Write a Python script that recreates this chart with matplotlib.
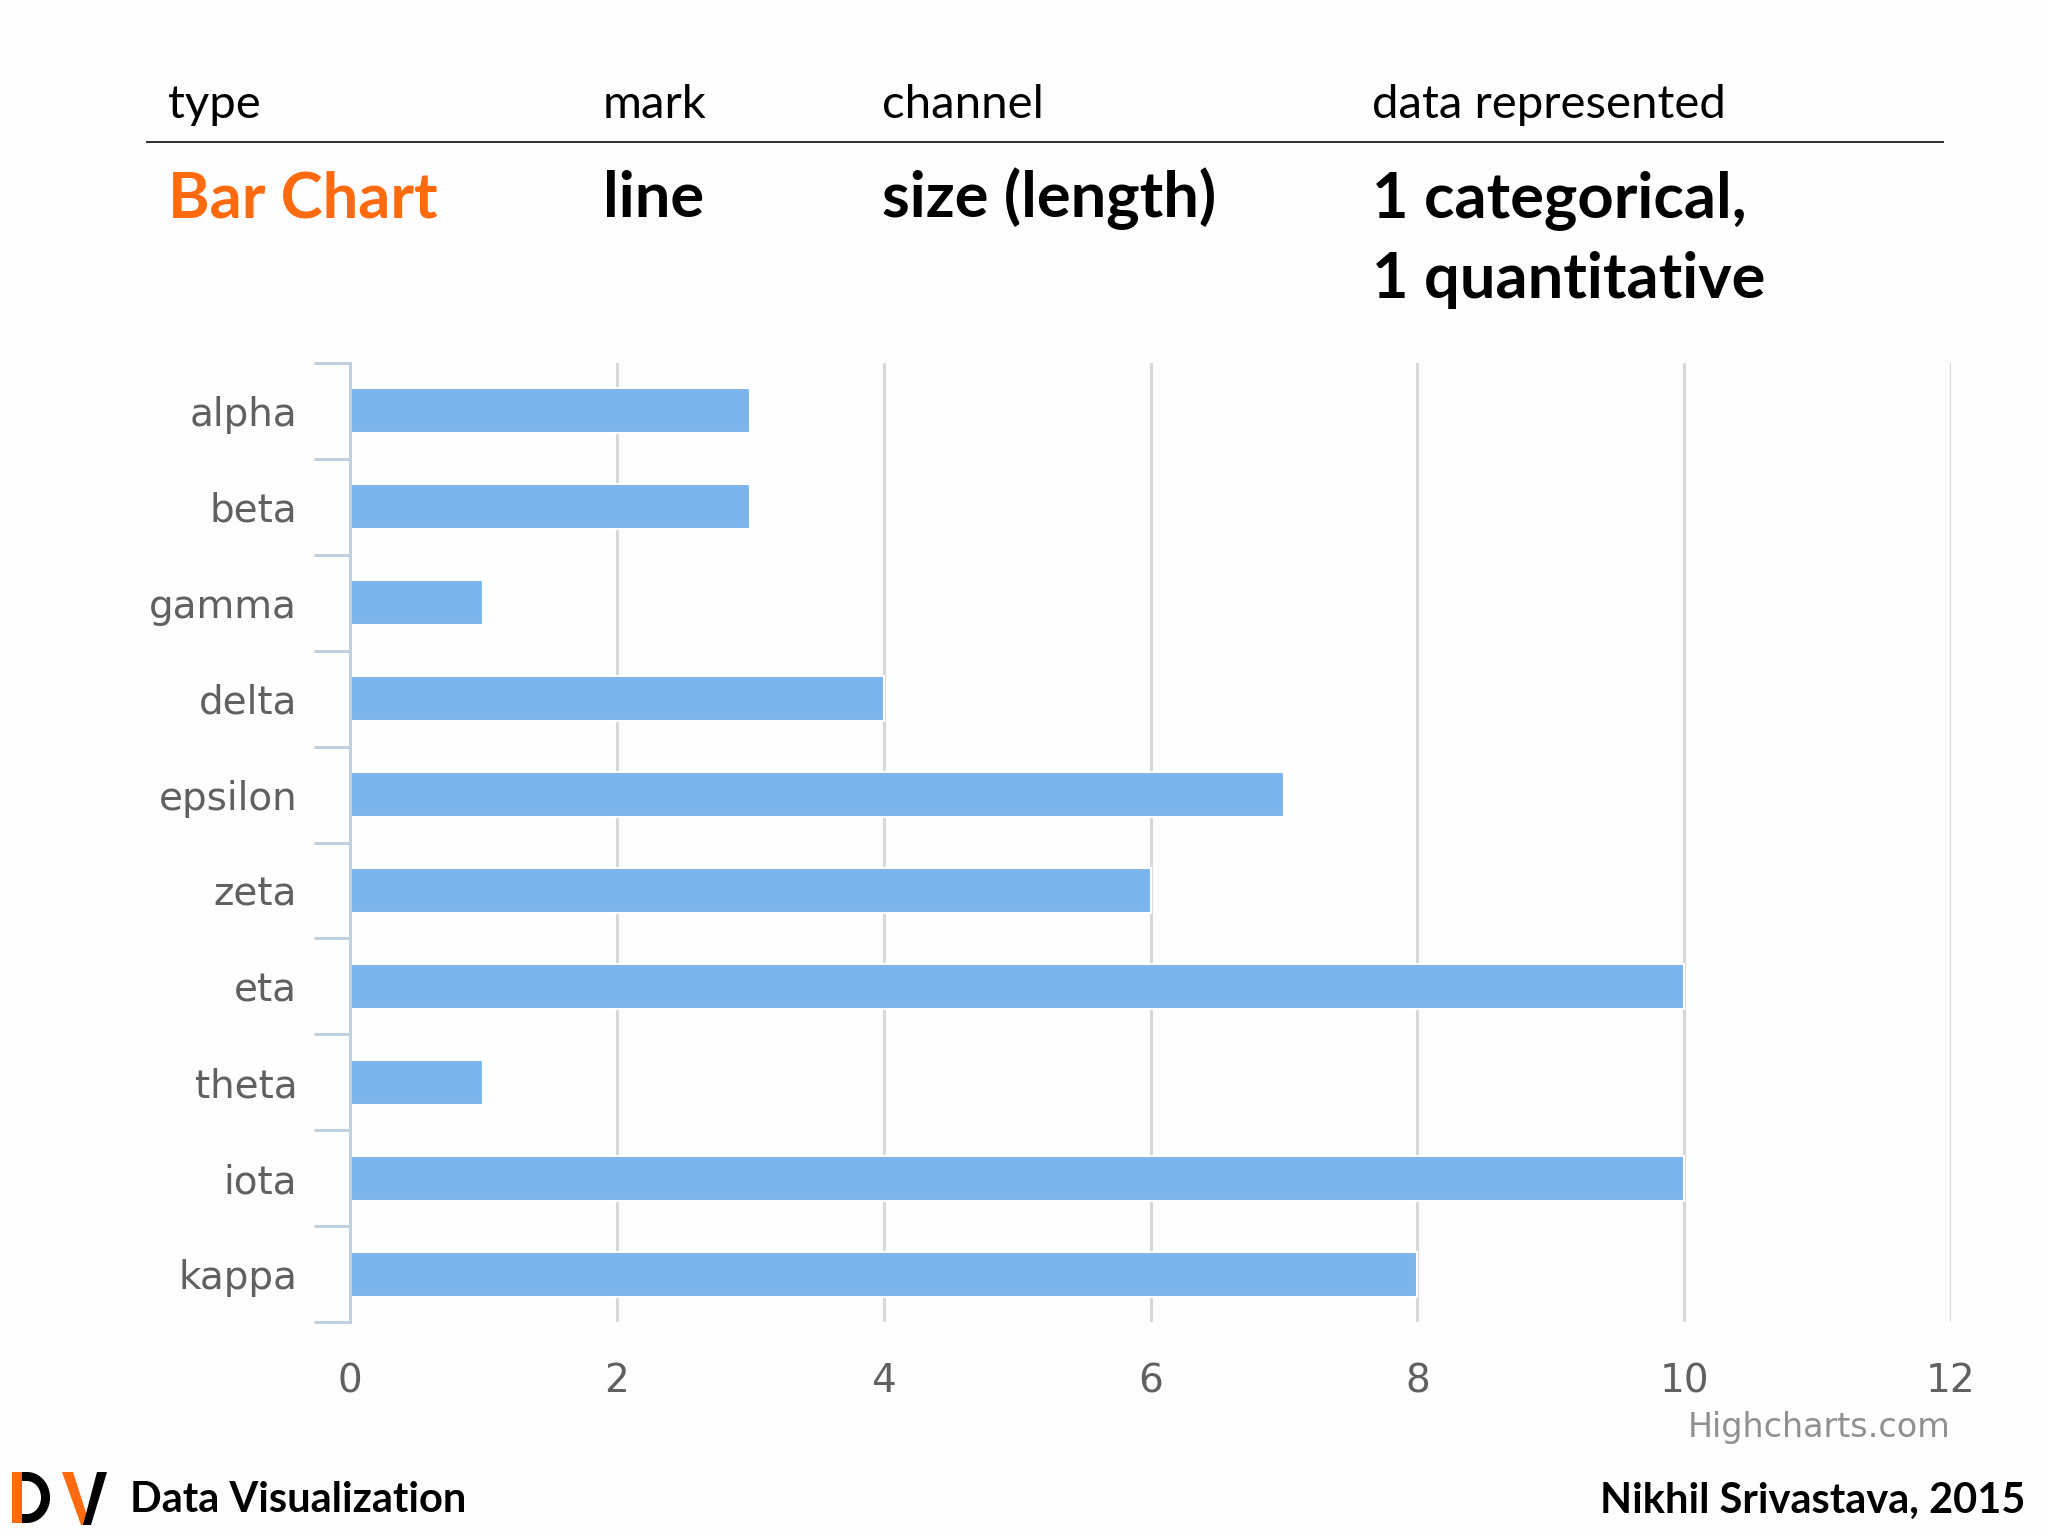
import numpy as np
import matplotlib.pyplot as plt

# data
categories = ["alpha", "beta", "gamma", "delta", "epsilon",
              "zeta", "eta", "theta", "iota", "kappa"]
values = [3, 3, 1, 4, 7, 6, 10, 1, 10, 8]
x_ticks = [0, 2, 4, 6, 8, 10, 12]

header_labels = ["type", "mark", "channel", "data represented"]
row_labels = ["Bar Chart", "line", "size (length)", "1 categorical,\n1 quantitative"]

W, H = 2048, 1536
DPI = 100
PX = 72 / DPI  # points per pixel

BAR_COLOR = "#7cb5ec"
AXIS_COLOR = "#c0d0e0"
GRID_COLOR = "#d8d8d8"
ORANGE = "#ff6a0e"

fig = plt.figure(figsize=(W / DPI, H / DPI), dpi=DPI, facecolor="#fefdfe")

# main chart area (pixel box from the reference)
left, right, top, bottom = 350, 1951, 363, 1322
ax = fig.add_axes([left / W, 1 - bottom / H, (right - left) / W, (bottom - top) / H])
ax.set_facecolor("none")

y = np.arange(len(categories))
ax.barh(y, values, height=0.47, color=BAR_COLOR, edgecolor="white",
        linewidth=1.5, zorder=2)

ax.set_xlim(0, 12)
ax.set_ylim(len(categories) - 0.5, -0.5)

# x axis: labels only, vertical grid lines
ax.set_xticks(x_ticks)
ax.set_xticklabels([str(t) for t in x_ticks])
ax.tick_params(axis="x", length=0, pad=29, labelsize=28, labelcolor="#606060")
for t in x_ticks[1:]:
    ax.axvline(t, color=GRID_COLOR, lw=2.2, zorder=1)

# y axis: ticks between categories, labels on the category centres
ax.set_yticks(np.arange(-0.5, len(categories), 1))
ax.set_yticklabels([])
ax.tick_params(axis="y", which="major", length=36 * PX, width=3 * PX,
               color=AXIS_COLOR, direction="out")
ax.set_yticks(y, minor=True)
ax.set_yticklabels(categories, minor=True)
ax.tick_params(axis="y", which="minor", length=0, pad=38, labelsize=28,
               labelcolor="#606060")

for s in ["top", "right", "bottom"]:
    ax.spines[s].set_visible(False)
ax.spines["left"].set_color(AXIS_COLOR)
ax.spines["left"].set_linewidth(3 * PX)
ax.spines["left"].set_zorder(3)

# overlay in pixel coordinates for the slide text
ov = fig.add_axes([0, 0, 1, 1])
ov.set_xlim(0, W)
ov.set_ylim(H, 0)
ov.axis("off")
ov.patch.set_visible(False)

col_x = [168, 603, 882, 1372]
for x, s in zip(col_x, header_labels):
    ov.text(x, 118, s, fontsize=34, family="Lato", color="black", va="baseline")
ov.plot([147, 1943], [142, 142], color="#333333", lw=2 * PX)

for i, (x, s) in enumerate(zip(col_x, row_labels)):
    for j, line in enumerate(s.split("\n")):
        ov.text(x, 217 + j * 81, line, fontsize=45.5, family="Lato",
                fontweight="bold", color=ORANGE if i == 0 else "black",
                va="baseline")

ov.text(1951, 1437, "Highcharts.com", fontsize=24, color="#909090",
        ha="right", va="baseline")

ov.text(130, 1512, "Data Visualization", fontsize=30, family="Lato",
        fontweight="bold", color="black", va="baseline")
ov.text(2025, 1513, "Nikhil Srivastava, 2015", fontsize=30, family="Lato",
        fontweight="bold", color="black", ha="right", va="baseline")

# DV logo
ov.add_patch(plt.Rectangle((12, 1472), 10, 51, color=ORANGE, lw=0))
ang = np.linspace(-np.pi / 2, np.pi / 2, 60)
outer = np.column_stack([27 + 23 * np.cos(ang), 1497.5 + 25.5 * np.sin(ang)])
inner = np.column_stack([27 + 14 * np.cos(ang), 1497.5 + 16.5 * np.sin(ang)])
d_bowl = np.vstack([[[22, 1472]], outer, [[22, 1523], [22, 1514]],
                    inner[::-1], [[22, 1481]]])
ov.add_patch(plt.Polygon(d_bowl, closed=True, color="black", lw=0))
ov.add_patch(plt.Polygon([[62, 1472], [73, 1472], [90, 1525], [81, 1525]],
                         closed=True, color=ORANGE, lw=0))
ov.add_patch(plt.Polygon([[97, 1472], [107, 1472], [91, 1525], [83, 1525]],
                         closed=True, color="black", lw=0))

fig.savefig("out.png", dpi=DPI, facecolor=fig.get_facecolor())
